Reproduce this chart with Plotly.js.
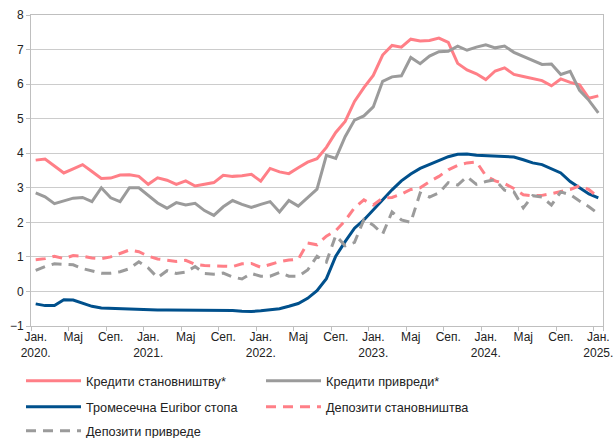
<!DOCTYPE html>
<html><head><meta charset="utf-8">
<script src="https://cdn.plot.ly/plotly-3.0.1.min.js"></script>
<style>html,body{margin:0;padding:0;background:#fff}#chart{width:613px;height:438px}</style>
</head><body><div id="chart"></div>
<script>
const months = [
 '2020-01','2020-02','2020-03','2020-04','2020-05','2020-06','2020-07','2020-08','2020-09','2020-10','2020-11','2020-12',
 '2021-01','2021-02','2021-03','2021-04','2021-05','2021-06','2021-07','2021-08','2021-09','2021-10','2021-11','2021-12',
 '2022-01','2022-02','2022-03','2022-04','2022-05','2022-06','2022-07','2022-08','2022-09','2022-10','2022-11','2022-12',
 '2023-01','2023-02','2023-03','2023-04','2023-05','2023-06','2023-07','2023-08','2023-09','2023-10','2023-11','2023-12',
 '2024-01','2024-02','2024-03','2024-04','2024-05','2024-06','2024-07','2024-08','2024-09','2024-10','2024-11','2024-12',
 '2025-01'];
const tickMonths = ['2020-01','2020-05','2020-09','2021-01','2021-05','2021-09','2022-01','2022-05','2022-09',
 '2023-01','2023-05','2023-09','2024-01','2024-05','2024-09','2025-01'];
const tickLabels = ['Јан.<br>2020.','Мај','Сеп.','Јан.<br>2021.','Мај','Сеп.','Јан.<br>2022.','Мај','Сеп.',
 'Јан.<br>2023.','Мај','Сеп.','Јан.<br>2024.','Мај','Сеп.','Јан.<br>2025.'];
const seriesNames = ['Кредити становништву*','Кредити привреди*','Тромесечна Euribor стопа','Депозити становништва','Депозити привреде'];

const hhLoans = [3.80,3.83,3.63,3.43,3.55,3.67,3.47,3.27,3.28,3.37,
 3.38,3.33,3.10,3.29,3.22,3.10,3.20,3.05,3.10,3.15,
 3.36,3.33,3.35,3.39,3.19,3.56,3.46,3.41,3.58,3.74,
 3.84,4.17,4.60,4.92,5.50,5.90,6.25,6.84,7.12,7.07,
 7.30,7.25,7.26,7.33,7.21,6.60,6.41,6.30,6.13,6.38,
 6.47,6.28,6.22,6.15,6.10,5.95,6.15,6.05,5.98,5.59,
 5.66];
const corpLoans = [2.85,2.74,2.54,2.61,2.70,2.72,2.60,3.00,2.71,2.60,
 3.00,3.00,2.79,2.56,2.41,2.57,2.50,2.55,2.34,2.20,
 2.45,2.63,2.52,2.43,2.52,2.60,2.30,2.63,2.47,2.71,
 2.96,3.94,3.85,4.48,4.96,5.08,5.34,6.08,6.21,6.24,
 6.77,6.59,6.81,6.94,6.95,7.10,6.98,7.07,7.14,7.05,
 7.10,6.92,6.81,6.69,6.57,6.58,6.28,6.37,5.82,5.53,
 5.17];
const euribor = [-0.36,-0.41,-0.41,-0.24,-0.25,-0.35,-0.43,-0.48,-0.49,-0.51,
 -0.52,-0.54,-0.55,-0.54,-0.54,-0.54,-0.54,-0.54,-0.54,-0.55,
 -0.55,-0.55,-0.57,-0.58,-0.56,-0.53,-0.50,-0.43,-0.35,-0.20,
 0.02,0.37,1.02,1.44,1.83,2.07,2.36,2.66,2.94,3.20,
 3.40,3.56,3.68,3.80,3.90,3.97,3.98,3.94,3.93,3.92,
 3.92,3.89,3.81,3.72,3.67,3.55,3.43,3.18,3.01,2.82,
 2.71];
const hhDeposits = [0.92,0.95,1.02,0.95,1.04,1.02,0.97,0.95,1.00,1.10,
 1.20,1.15,1.02,0.94,0.90,0.87,0.90,0.78,0.75,0.73,
 0.73,0.72,0.80,0.81,0.70,0.78,0.86,0.91,0.93,1.40,
 1.35,1.60,1.76,2.05,2.42,2.65,2.50,2.70,2.72,2.82,
 2.95,3.00,3.18,3.33,3.52,3.65,3.72,3.75,3.35,3.20,
 3.12,2.98,2.80,2.77,2.78,2.83,2.88,2.95,3.06,2.95,
 2.72];
const corpDeposits = [0.61,0.72,0.80,0.78,0.77,0.66,0.60,0.53,0.53,0.57,
 0.66,0.86,0.68,0.40,0.60,0.52,0.56,0.72,0.52,0.50,
 0.53,0.42,0.36,0.52,0.44,0.44,0.55,0.44,0.44,0.62,
 1.02,0.85,1.62,1.32,1.42,2.08,1.92,1.66,2.30,2.07,
 2.00,2.85,2.73,2.85,3.15,3.08,3.32,3.10,3.18,3.23,
 2.93,2.88,2.42,2.77,2.73,2.50,2.88,2.80,2.62,2.45,
 2.25];

const PINK = '#ff7f87', GRAY = '#9b9b9b', BLUE = '#00508c';
const DASH = '10px,7px';
const FONT = 'Liberation Sans, Arial, sans-serif';

function tr(name, y, color, dash, legend) {
  return {type:'scatter', mode:'lines', x: months, y: y, name: name,
    line: {color: color, width: 3, dash: dash}, legend: legend, hoverinfo: 'skip'};
}
const traces = [
  tr(seriesNames[0], hhLoans, PINK, 'solid', 'legend'),
  tr(seriesNames[1], corpLoans, GRAY, 'solid', 'legend'),
  tr(seriesNames[2], euribor, BLUE, 'solid', 'legend2'),
  tr(seriesNames[3], hhDeposits, PINK, DASH, 'legend2'),
  tr(seriesNames[4], corpDeposits, GRAY, DASH, 'legend3')
];

const legendBase = {orientation:'h', xref:'container', yref:'container', x: 21/613, xanchor:'left',
  yanchor:'middle', itemwidth: 55, entrywidth: 170, entrywidthmode:'pixels',
  font:{family:FONT, size:12.7, color:'#222'}, bgcolor:'rgba(0,0,0,0)', traceorder:'normal'};

const layout = {
  width: 613, height: 438,
  margin: {l: 31, r: 10, t: 15, b: 112},
  paper_bgcolor: '#fff', plot_bgcolor: '#fff',
  font: {family: FONT, size: 12, color: '#222'},
  showlegend: true,
  legend: Object.assign({}, legendBase, {y: (438-381)/438}),
  legend2: Object.assign({}, legendBase, {y: (438-407)/438}),
  legend3: Object.assign({}, legendBase, {y: (438-431)/438}),
  xaxis: {type:'category', range:[-0.5, 60.5], tickmode:'array', tickvals: tickMonths, ticktext: tickLabels,
    tickson:'boundaries', ticks:'outside', ticklen:4, tickcolor:'#bfbfbf', tickangle:0,
    showline:true, mirror:true, linecolor:'#bfbfbf', linewidth:1, showgrid:false, zeroline:false,
    automargin:false, tickfont:{family:FONT, size:12, color:'#222'}},
  yaxis: {range:[-1, 8], tickmode:'linear', tick0:-1, dtick:1, ticks:'outside', ticklen:4, tickcolor:'#bfbfbf',
    showline:true, mirror:true, linecolor:'#bfbfbf', linewidth:1, showgrid:true, gridcolor:'#cccccc', gridwidth:1,
    zeroline:false, automargin:false, tickfont:{family:FONT, size:12, color:'#222'}}
};
Plotly.newPlot('chart', traces, layout, {staticPlot:true, displayModeBar:false});
</script></body></html>
